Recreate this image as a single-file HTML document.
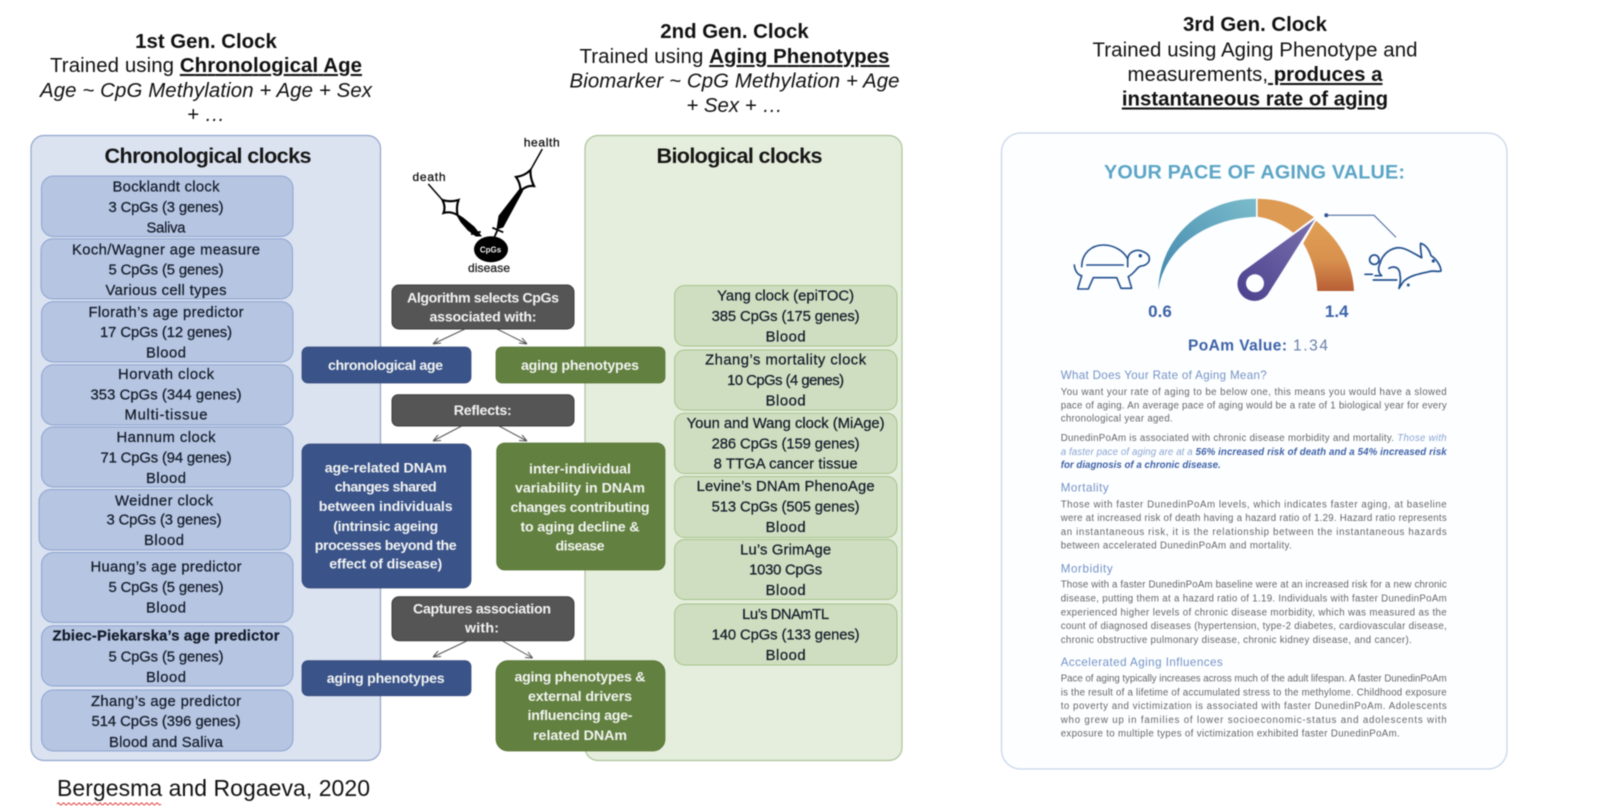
<!DOCTYPE html>
<html><head><meta charset="utf-8"><style>
html,body{margin:0;padding:0;background:#fff;width:1600px;height:808px;overflow:hidden}
svg{display:block;filter:blur(.45px)}
text{font-family:"Liberation Sans",sans-serif}
.h{font-size:20.4px;fill:#111;text-anchor:middle}
.b{font-size:14.8px;fill:#141c2b;text-anchor:middle;stroke:#141c2b;stroke-width:.25}
.w{font-size:14.2px;fill:#f2f4f2;text-anchor:middle;font-weight:bold}
.p{font-size:9.7px;fill:#666}
.s{font-size:11.6px;fill:#7592c6}
</style></head><body>
<svg width="1600" height="808" viewBox="0 0 1600 808" xmlns="http://www.w3.org/2000/svg">
<defs>
<linearGradient id="g1" x1="0" y1="1" x2="1" y2="0"><stop offset="0" stop-color="#3f86ad"/><stop offset="1" stop-color="#7bbccb"/></linearGradient>
<linearGradient id="g2" x1="0" y1="0" x2="0" y2="1"><stop offset="0" stop-color="#e0a055"/><stop offset=".55" stop-color="#d9914e"/><stop offset="1" stop-color="#b85f36"/></linearGradient>
<linearGradient id="g3" x1="0" y1="1" x2="1" y2="0"><stop offset="0" stop-color="#4a418f"/><stop offset="1" stop-color="#7a70ad"/></linearGradient>
</defs>

<!-- headings -->
<text class="h" x="206" y="48" font-weight="bold">1st Gen. Clock</text>
<text class="h" x="206" y="72" textLength="312">Trained using <tspan font-weight="bold" text-decoration="underline">Chronological Age</tspan></text>
<text class="h" x="206" y="97" font-style="italic" textLength="332">Age ~ CpG Methylation + Age + Sex</text>
<text class="h" x="206" y="121" font-style="italic">+ …</text>

<text class="h" x="734.5" y="38" font-weight="bold">2nd Gen. Clock</text>
<text class="h" x="734.5" y="63" textLength="310">Trained using <tspan font-weight="bold" text-decoration="underline">Aging Phenotypes</tspan></text>
<text class="h" x="734.5" y="87.5" font-style="italic" textLength="330">Biomarker ~ CpG Methylation + Age</text>
<text class="h" x="734.5" y="112" font-style="italic">+ Sex + …</text>

<text class="h" x="1255" y="31" font-weight="bold">3rd Gen. Clock</text>
<text class="h" x="1255" y="56.5" textLength="325">Trained using Aging Phenotype and</text>
<text class="h" x="1255" y="81">measurements,<tspan font-weight="bold" text-decoration="underline"> produces a</tspan></text>
<text class="h" x="1255" y="105.5" font-weight="bold" text-decoration="underline">instantaneous rate of aging</text>

<!-- panels -->
<rect x="31" y="135.5" width="349.5" height="625" rx="13" fill="#dbe3f1" stroke="#93a6cb" stroke-width="1.2"/>
<rect x="585" y="135.5" width="317" height="625" rx="13" fill="#e5eedc" stroke="#adc39c" stroke-width="1.2"/>
<text x="208" y="163" font-size="21.6" font-weight="bold" fill="#161616" text-anchor="middle" textLength="207">Chronological clocks</text>
<text x="739.5" y="163" font-size="21.6" font-weight="bold" fill="#161616" text-anchor="middle" textLength="166">Biological clocks</text>

<!-- left boxes -->
<g fill="#b6c5e1" stroke="#8da4d0" stroke-width="1">
<rect x="41.5" y="176" width="251.5" height="60.5" rx="12"/>
<rect x="41" y="238.7" width="251.5" height="60.3" rx="12"/>
<rect x="41.5" y="301.6" width="251.5" height="60.4" rx="12"/>
<rect x="41.5" y="364.8" width="251.5" height="60.2" rx="12"/>
<rect x="41.5" y="427" width="251.5" height="60" rx="12"/>
<rect x="39" y="489.5" width="251.5" height="60.5" rx="12"/>
<rect x="41.5" y="552.5" width="251.5" height="70" rx="12"/>
<rect x="41.5" y="625.7" width="251.5" height="60.3" rx="12"/>
<rect x="41.5" y="690" width="251.5" height="61" rx="12"/>
</g>
<g class="lt">
<text class="b" x="166" y="191.7" textLength="107">Bocklandt clock</text>
<text class="b" x="166" y="212" textLength="115">3 CpGs (3 genes)</text>
<text class="b" x="166" y="232.3" textLength="39">Saliva</text>
<text class="b" x="166" y="254.3" textLength="188">Koch/Wagner age measure</text>
<text class="b" x="166" y="274.7" textLength="115">5 CpGs (5 genes)</text>
<text class="b" x="166" y="295" textLength="121">Various cell types</text>
<text class="b" x="166" y="316.8" textLength="155">Florath’s age predictor</text>
<text class="b" x="166" y="337.2" textLength="132">17 CpGs (12 genes)</text>
<text class="b" x="166" y="357.6" textLength="40">Blood</text>
<text class="b" x="166" y="379" textLength="96">Horvath clock</text>
<text class="b" x="166" y="399.4" textLength="151">353 CpGs (344 genes)</text>
<text class="b" x="166" y="419.7" textLength="83">Multi-tissue</text>
<text class="b" x="166" y="442" textLength="99">Hannum clock</text>
<text class="b" x="166" y="462.5" textLength="131">71 CpGs (94 genes)</text>
<text class="b" x="166" y="483" textLength="40">Blood</text>
<text class="b" x="164" y="505.3" textLength="98">Weidner clock</text>
<text class="b" x="164" y="524.7" textLength="115">3 CpGs (3 genes)</text>
<text class="b" x="164" y="545" textLength="40">Blood</text>
<text class="b" x="166" y="571.6" textLength="151">Huang’s age predictor</text>
<text class="b" x="166" y="592" textLength="115">5 CpGs (5 genes)</text>
<text class="b" x="166" y="612.3" textLength="40">Blood</text>
<text class="b" x="166" y="640.3" textLength="227" font-weight="bold">Zbiec-Piekarska’s age predictor</text>
<text class="b" x="166" y="661.6" textLength="115">5 CpGs (5 genes)</text>
<text class="b" x="166" y="682" textLength="40">Blood</text>
<text class="b" x="166" y="706" textLength="150">Zhang’s age predictor</text>
<text class="b" x="166" y="725.8" textLength="149">514 CpGs (396 genes)</text>
<text class="b" x="166" y="746.8" textLength="114">Blood and Saliva</text>
</g>

<!-- right boxes -->
<g fill="#cfdec0" stroke="#a5c28b" stroke-width="1">
<rect x="674.6" y="285.5" width="222.4" height="60.5" rx="10"/>
<rect x="674.6" y="350" width="222.4" height="60.1" rx="10"/>
<rect x="674.6" y="413.2" width="222.4" height="60.3" rx="10"/>
<rect x="674.6" y="476.5" width="222.4" height="61" rx="10"/>
<rect x="674.6" y="539.5" width="222.4" height="60" rx="10"/>
<rect x="674.6" y="604" width="222.4" height="61" rx="10"/>
</g>
<text class="b" x="785.6" y="300.5" textLength="137">Yang clock (epiTOC)</text>
<text class="b" x="785.6" y="320.9" textLength="148">385 CpGs (175 genes)</text>
<text class="b" x="785.6" y="341.3" textLength="40">Blood</text>
<text class="b" x="785.6" y="364.7" textLength="161">Zhang’s mortality clock</text>
<text class="b" x="785.6" y="385" textLength="117">10 CpGs (4 genes)</text>
<text class="b" x="785.6" y="405.5" textLength="40">Blood</text>
<text class="b" x="785.6" y="428" textLength="198">Youn and Wang clock (MiAge)</text>
<text class="b" x="785.6" y="448.3" textLength="148">286 CpGs (159 genes)</text>
<text class="b" x="785.6" y="468.7" textLength="144">8 TTGA cancer tissue</text>
<text class="b" x="785.6" y="491" textLength="178">Levine’s DNAm PhenoAge</text>
<text class="b" x="785.6" y="511.4" textLength="148">513 CpGs (505 genes)</text>
<text class="b" x="785.6" y="531.8" textLength="40">Blood</text>
<text class="b" x="785.6" y="554.3" textLength="91">Lu’s GrimAge</text>
<text class="b" x="785.6" y="574.6" textLength="73">1030 CpGs</text>
<text class="b" x="785.6" y="595" textLength="40">Blood</text>
<text class="b" x="785.6" y="619" textLength="87">Lu’s DNAmTL</text>
<text class="b" x="785.6" y="639.4" textLength="148">140 CpGs (133 genes)</text>
<text class="b" x="785.6" y="659.8" textLength="40">Blood</text>

<!-- clock -->
<g fill="#000" stroke="#000">
<text x="429" y="181" font-size="12" text-anchor="middle" stroke="#111" stroke-width=".3" fill="#111" textLength="33">death</text>
<text x="541.7" y="146.7" font-size="12" text-anchor="middle" stroke="#111" stroke-width=".3" fill="#111" textLength="36">health</text>
<text x="489" y="272" font-size="12" text-anchor="middle" stroke="#222" stroke-width=".3" fill="#222" textLength="42">disease</text>
<line x1="428.3" y1="184" x2="443.3" y2="201" stroke-width="1.5"/>
<path d="M442.5 200 Q450.5 202.5 458.5 200 Q456 207 457.5 215 Q450.5 211 443.5 213 Q446 207 442.5 200Z" fill="#fff" stroke-width="2.2"/>
<path d="M456 213.5 L463 218 L474 227 L481 236 L476 236 L468 230 L461 222Z" stroke-width="1"/>
<path d="M471 234.3 L480.7 231.7" stroke-width="1.8" fill="none"/>
<line x1="542.3" y1="149" x2="530" y2="171" stroke-width="1.5"/>
<path d="M516 177 Q524.5 176 530.5 170 Q530 178 534 186 Q526.5 185 520.5 191 Q520.5 183 516 177Z" fill="#fff" stroke-width="2.2"/>
<path d="M520 189 L522.5 191 L510 214 L503 227 L497 229 L499 216Z" stroke-width="1"/>
<path d="M492.3 227.7 L503.3 232.3 M497.5 230 L494 238" stroke-width="1.8" fill="none"/>
<ellipse cx="491" cy="249.3" rx="17" ry="13" stroke="none"/>
<text x="490.5" y="252.3" font-size="8" font-weight="bold" fill="#eee" stroke="none" text-anchor="middle">CpGs</text>
</g>

<!-- arrows -->
<g stroke="#555" stroke-width="1" fill="none">
<path d="M465 329 L433 344 M433 344 L441 343 M433 344 L438 338"/>
<path d="M497 329 L527 344 M527 344 L519 343 M527 344 L522 338"/>
<path d="M461.7 426 L433 441 M433 441 L441 440.5 M433 441 L438 435"/>
<path d="M499 426 L527 441 M527 441 L519 440.5 M527 441 L522 435"/>
<path d="M466.7 641 L433 657 M433 657 L441 656.5 M433 657 L438 651"/>
<path d="M502.7 641 L532.7 658 M532.7 658 L525 657.5 M532.7 658 L528 652"/>
</g>

<!-- middle boxes -->
<g fill="#555" stroke="#3d3d3d" stroke-width="1">
<rect x="392" y="285" width="182" height="44" rx="7"/>
<rect x="392" y="394.7" width="182" height="31.3" rx="6"/>
<rect x="392" y="596.7" width="182" height="44" rx="7"/>
</g>
<g fill="#3a5389" stroke="#34497a" stroke-width=".8">
<rect x="302" y="347" width="169" height="36" rx="6"/>
<rect x="302" y="444" width="169" height="144" rx="8"/>
<rect x="302" y="660.7" width="169" height="35" rx="6"/>
</g>
<g fill="#62803f" stroke="#587538" stroke-width=".8">
<rect x="496" y="347" width="169" height="36" rx="6"/>
<rect x="496.7" y="443" width="168.3" height="127" rx="8"/>
<rect x="496" y="660.7" width="169" height="90.3" rx="12"/>
</g>
<text class="w" x="483" y="302.3" textLength="152">Algorithm selects CpGs</text>
<text class="w" x="483" y="321.7" textLength="107">associated with:</text>
<text class="w" x="385.5" y="370" textLength="115">chronological age</text>
<text class="w" x="580" y="370" textLength="118">aging phenotypes</text>
<text class="w" x="482.7" y="415" textLength="58">Reflects:</text>
<text class="w" x="385.7" y="472.3" textLength="122">age-related DNAm</text>
<text class="w" x="385.7" y="491.7" textLength="102">changes shared</text>
<text class="w" x="385.7" y="511" textLength="134">between individuals</text>
<text class="w" x="385.7" y="531" textLength="105">(intrinsic ageing</text>
<text class="w" x="385.7" y="550" textLength="142">processes beyond the</text>
<text class="w" x="385.7" y="568.7" textLength="113">effect of disease)</text>
<text class="w" x="580" y="473.3" textLength="102">inter-individual</text>
<text class="w" x="580" y="492.7" textLength="130">variability in DNAm</text>
<text class="w" x="580" y="512" textLength="139">changes contributing</text>
<text class="w" x="580" y="531.7" textLength="119">to aging decline &amp;</text>
<text class="w" x="580" y="550.7" textLength="49">disease</text>
<text class="w" x="482" y="613.3" textLength="138">Captures association</text>
<text class="w" x="482" y="632.7" textLength="34">with:</text>
<text class="w" x="385.7" y="683" textLength="118">aging phenotypes</text>
<text class="w" x="580" y="681.7" textLength="131">aging phenotypes &amp;</text>
<text class="w" x="580" y="701" textLength="104">external drivers</text>
<text class="w" x="580" y="720" textLength="105">influencing age-</text>
<text class="w" x="580" y="740" textLength="94">related DNAm</text>

<!-- citation -->
<text x="57" y="796" font-size="23" fill="#111" textLength="313">Bergesma and Rogaeva, 2020</text>
<path d="M57 804 q1.3 -2 2.6 0 t2.6 0 t2.6 0 t2.6 0 t2.6 0 t2.6 0 t2.6 0 t2.6 0 t2.6 0 t2.6 0 t2.6 0 t2.6 0 t2.6 0 t2.6 0 t2.6 0 t2.6 0 t2.6 0 t2.6 0 t2.6 0 t2.6 0 t2.6 0 t2.6 0 t2.6 0 t2.6 0 t2.6 0 t2.6 0 t2.6 0 t2.6 0 t2.6 0 t2.6 0 t2.6 0 t2.6 0 t2.6 0 t2.6 0 t2.6 0 t2.6 0 t2.6 0 t2.6 0 t2.6 0 t2.6 0" fill="none" stroke="#d33" stroke-width=".9"/>

<!-- card -->
<rect x="1001.5" y="133" width="505.5" height="636" rx="19" fill="#fcfeff" stroke="#c9d6ea" stroke-width="1.3"/>
<text x="1254.5" y="178.5" font-size="19.8" font-weight="bold" fill="#5ba5c6" text-anchor="middle" textLength="301">YOUR PACE OF AGING VALUE:</text>

<!-- gauge -->
<path d="M1158.3 290 C1160 236 1204 198.7 1256 198.7 L1256 216.7 C1210 218 1165 245 1158.3 290Z" fill="url(#g1)"/>
<path d="M1257.7 198.7 Q1290 199 1314 217.3 L1293.3 232.7 Q1276 219 1257.7 216.7Z" fill="#dd9a52"/>
<path d="M1316 220.7 Q1352 250 1354 291 L1317.3 291 Q1316 265 1303.3 243.3Z" fill="url(#g2)"/>
<path d="M1315 219.3 L1242.6 271.7 A17 17 0 1 0 1267.4 294.9Z" fill="url(#g3)"/>
<circle cx="1255" cy="283.3" r="9" fill="#fcfeff"/>
<circle cx="1326.3" cy="215.3" r="2" fill="#2f5494"/>
<path d="M1326.3 215.3 H1374 L1396 237.3" fill="none" stroke="#3f5f96" stroke-width="1"/>

<!-- turtle -->
<g fill="none" stroke="#23508f" stroke-width="1.6" stroke-linecap="round" stroke-linejoin="round">
<path d="M1081.7 266.7 C1081.7 253.3 1091.7 245 1103.3 245 C1115 245 1124.3 251.7 1127.7 259 V266.7"/>
<path d="M1086.7 265 H1123.3"/>
<path d="M1074.3 265 C1075 271.7 1078.3 275 1081.7 275.7 L1077.7 289 H1088.3 L1093.3 277.7 H1116.7 L1121 288.3 H1131.7 L1128.3 276.7"/>
<path d="M1127.7 259 C1128.3 251.7 1136.7 248.3 1143.3 251.7 C1151.7 255 1151 263.3 1143.3 265.7 C1136.7 265.7 1136.7 271.7 1128.3 276.7"/>
<circle cx="1140.3" cy="255.7" r=".9" fill="#23508f"/>
</g>
<!-- rabbit -->
<g fill="none" stroke="#23508f" stroke-width="1.7" stroke-linecap="round" stroke-linejoin="round">
<circle cx="1374.3" cy="259.7" r="4.7"/>
<path d="M1380 263.3 C1383.3 251.7 1395 245 1405 249 C1411.7 251.7 1416.7 255 1421.7 257.7 C1421 251.7 1420 246.7 1420.7 243.3 C1426.7 245 1430 251.7 1431 255.7 C1436.7 259 1441 266.7 1441 271 C1438.3 272.3 1433.3 270 1429 271.7 C1421.7 273.3 1410 275 1403.3 281.7 L1399 288.3"/>
<path d="M1389 268.3 C1395 265 1400 268.3 1400 275 C1401 280 1400 285 1399 288.3"/>
<path d="M1380 263.3 C1378 268 1378 272 1381 275"/>
<path d="M1365 274.3 H1372.3 M1375 275.7 H1381.7 M1373.3 280 H1396.7"/>
<circle cx="1433.3" cy="261" r=".8" fill="#23508f"/>
<circle cx="1408.3" cy="285" r=".6" fill="#23508f"/>
</g>

<text x="1160" y="317" font-size="17" font-weight="bold" fill="#3d62a8" text-anchor="middle">0.6</text>
<text x="1336.7" y="317" font-size="17" font-weight="bold" fill="#3d62a8" text-anchor="middle">1.4</text>
<text x="1188" y="350.7" font-size="15.5" font-weight="bold" fill="#3d62a8" textLength="99">PoAm Value:</text>
<text x="1293" y="350.7" font-size="15.5" fill="#6a80aa" textLength="35">1.34</text>

<!-- body text -->
<text class="s" x="1060.7" y="379" textLength="206">What Does Your Rate of Aging Mean?</text>
<text class="p" x="1060.7" y="395" textLength="386">You want your rate of aging to be below one, this means you would have a slowed</text>
<text class="p" x="1060.7" y="408.3" textLength="386">pace of aging. An average pace of aging would be a rate of 1 biological year for every</text>
<text class="p" x="1060.7" y="421.7" textLength="112">chronological year aged.</text>
<text class="p" x="1060.7" y="441" textLength="386">DunedinPoAm is associated with chronic disease morbidity and mortality. <tspan font-style="italic" style="fill:#8ca5d2">Those with</tspan></text>
<text class="p" x="1060.7" y="455" textLength="386" font-style="italic" style="fill:#8ca5d2">a faster pace of aging are at a <tspan font-weight="bold" style="fill:#3f62a8">56% increased risk of death and a 54% increased risk</tspan></text>
<text class="p" x="1060.7" y="468" textLength="160" font-style="italic" font-weight="bold" style="fill:#3f62a8">for diagnosis of a chronic disease.</text>
<text class="s" x="1060.7" y="491.7" textLength="48">Mortality</text>
<text class="p" x="1060.7" y="507.7" textLength="386">Those with faster DunedinPoAm levels, which indicates faster aging, at baseline</text>
<text class="p" x="1060.7" y="521.2" textLength="386">were at increased risk of death having a hazard ratio of 1.29. Hazard ratio represents</text>
<text class="p" x="1060.7" y="535" textLength="386">an instantaneous risk, it is the relationship between the instantaneous hazards</text>
<text class="p" x="1060.7" y="548.7" textLength="231">between accelerated DunedinPoAm and mortality.</text>
<text class="s" x="1060.7" y="572.3" textLength="52">Morbidity</text>
<text class="p" x="1060.7" y="587.7" textLength="386">Those with a faster DunedinPoAm baseline were at an increased risk for a new chronic</text>
<text class="p" x="1060.7" y="601.7" textLength="386">disease, putting them at a hazard ratio of 1.19. Individuals with faster DunedinPoAm</text>
<text class="p" x="1060.7" y="615.3" textLength="386">experienced higher levels of chronic disease morbidity, which was measured as the</text>
<text class="p" x="1060.7" y="629" textLength="386">count of diagnosed diseases (hypertension, type-2 diabetes, cardiovascular disease,</text>
<text class="p" x="1060.7" y="643" textLength="351">chronic obstructive pulmonary disease, chronic kidney disease, and cancer).</text>
<text class="s" x="1060.7" y="666" textLength="162">Accelerated Aging Influences</text>
<text class="p" x="1060.7" y="681.7" textLength="386">Pace of aging typically increases across much of the adult lifespan. A faster DunedinPoAm</text>
<text class="p" x="1060.7" y="695.7" textLength="386">is the result of a lifetime of accumulated stress to the methylome. Childhood exposure</text>
<text class="p" x="1060.7" y="709" textLength="386">to poverty and victimization is associated with faster DunedinPoAm. Adolescents</text>
<text class="p" x="1060.7" y="723" textLength="386">who grew up in families of lower socioeconomic-status and adolescents with</text>
<text class="p" x="1060.7" y="736.7" textLength="339">exposure to multiple types of victimization exhibited faster DunedinPoAm.</text>
</svg>
</body></html>
